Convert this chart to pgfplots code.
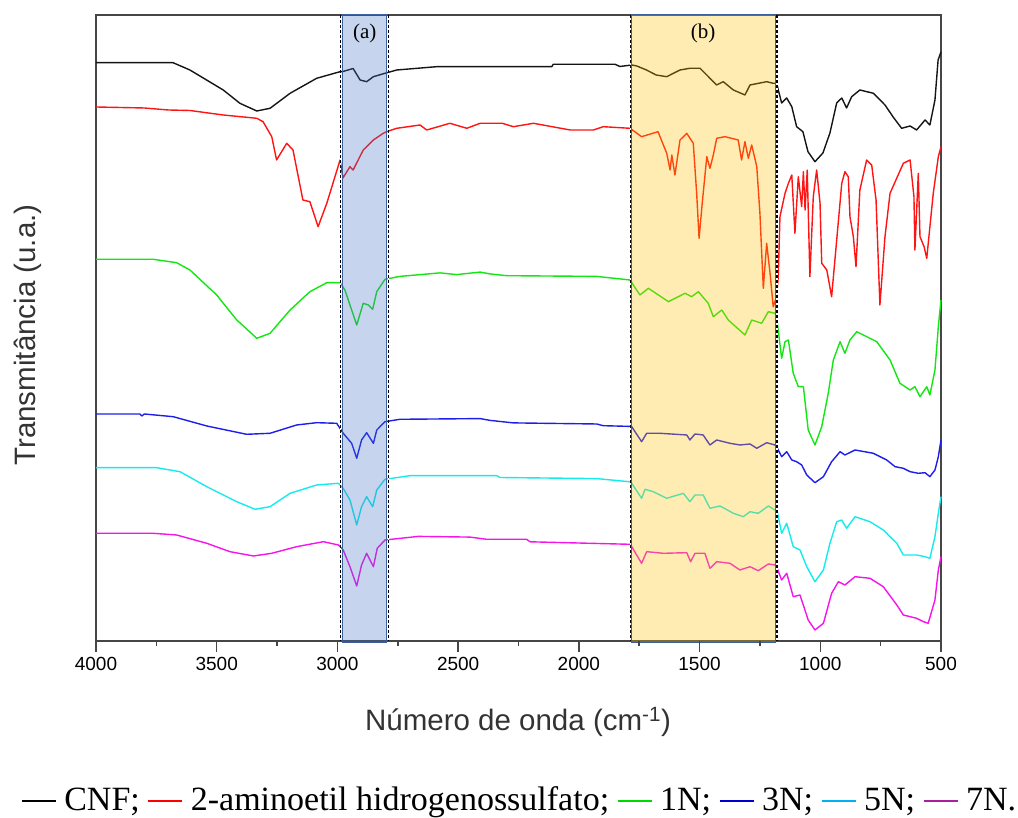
\documentclass[border=0pt]{standalone}
\usepackage{fontspec}
\setmainfont{Liberation Serif}
\newfontfamily\arial{Liberation Sans}
\usepackage{pgfplots}
\pgfplotsset{compat=1.18}

\definecolor{cnf}{RGB}{20,20,20}
\definecolor{amino}{RGB}{255,20,20}
\definecolor{n1}{RGB}{20,230,20}
\definecolor{n3}{RGB}{30,30,235}
\definecolor{n5}{RGB}{20,235,235}
\definecolor{n7}{RGB}{245,20,235}
\definecolor{boxa}{RGB}{68,114,196}
\definecolor{boxb}{RGB}{255,192,0}
\definecolor{boxedge}{RGB}{60,95,160}
\definecolor{axgray}{RGB}{70,70,70}
\definecolor{leg5}{RGB}{0,176,240}
\definecolor{leg7}{RGB}{170,30,160}

\begin{document}
\begin{tikzpicture}
\useasboundingbox (0pt,0pt) rectangle (1018pt,818pt);
\begin{axis}[
  at={(96pt,177pt)}, anchor=south west,
  scale only axis, width=845pt, height=626pt,
  xmin=500, xmax=4000, x dir=reverse,
  ymin=-641, ymax=-15,
  ytick=\empty,
  xtick={500,1000,...,4000}, minor x tick num=1,
  xtick pos=left, tick align=outside,
  major tick length=11pt, minor tick length=5pt,
  tick style={axgray, line width=1.5pt},
  axis line style={axgray, line width=1.6pt},
  xticklabel style={font=\arial\fontsize{19}{19}\selectfont, yshift=-2pt},
  /pgf/number format/assume math mode=true,
  /pgf/number format/1000 sep={},
  clip=false,
  every axis plot/.append style={line width=1.4pt, line join=round},
]
% CNF
\addplot[cnf] coordinates {
(4000,-62.7)(3681,-62.7)(3611,-70)(3473,-90)(3404,-103.3)(3334,-111)(3279,-108.3)(3196,-93.3)(3086,-78.3)(2989,-71.7)
(2977,-71.5)(2935,-68.5)(2906,-80)(2879,-81.7)(2851,-76.7)(2803,-73.3)(2754,-70)(2589,-66.7)(2112,-66.7)(2106,-64.3)
(1850,-64.3)(1830,-66.5)(1780,-65)(1760,-66)(1720,-70)(1680,-75)(1636,-76.7)(1581,-70)(1540,-68.3)(1498,-68.3)
(1429,-85)(1402,-81.7)(1360,-90)(1312,-95)(1291,-85)(1222,-81.7)(1195,-83.3)(1181,-83.3)
(1160,-103)(1139,-98)(1118,-106.7)(1098,-126.7)(1072,-131.7)(1051,-151.7)(1022,-161.7)(989,-153)(960,-133)
(932,-103)(911,-98)(891,-108)(870,-96.7)(836,-90)(780,-93.3)(732,-105)(699,-116.7)(663,-128.3)(628,-126)
(601,-130)(566,-120)(546,-125)(525,-100)(512,-60)(500,-52)};
% 2-aminoetil hidrogenossulfato
\addplot[amino] coordinates {
(4000,-107)(3800,-108)(3700,-110)(3611,-110.5)(3473,-115)(3334,-118.3)(3308,-121.7)(3272,-136.7)(3252,-160)
(3210,-143.3)(3184,-150)(3143,-200)(3114,-201.7)(3080,-226.7)(3044,-203.3)(2989,-160)(2977,-178)(2948,-166.7)
(2935,-170)(2893,-150)(2851,-140)(2810,-133.3)(2796,-131.7)(2754,-128.3)(2658,-125)(2630,-130)(2534,-123.3)
(2464,-128.3)(2409,-123.3)(2317,-123.3)(2271,-126.7)(2188,-123.3)(2036,-130)(1940,-130)(1899,-126.7)(1788,-128.3)
(1740,-136.7)(1672,-131.7)(1636,-153.3)(1622,-170)(1615,-155)(1602,-175)(1581,-140)(1553,-133.3)(1526,-143.3)
(1512,-193.3)(1502,-238.3)(1489,-203.3)(1470,-156.7)(1457,-168.3)(1443,-155)(1429,-138.3)(1395,-136.7)(1340,-140)
(1326,-160)(1312,-141.7)(1298,-158.3)(1284,-145)(1263,-166.7)(1250,-213.3)(1236,-288.3)(1222,-243.3)(1208,-273.3)
(1195,-306.7)(1181,-296.7)(1174,-276.7)(1167,-216.7)(1146,-193.3)(1132,-183.3)(1118,-175)(1105,-233.3)(1091,-176.7)
(1077,-206.7)(1070,-171.7)(1063,-210)(1054,-170)(1043,-276.7)(1029,-196.7)(1015,-170)(1001,-203.3)(994,-263.3)
(973,-270)(953,-296.7)(932,-240)(911,-183.3)(898,-171.7)(884,-176.7)(877,-216.7)(863,-236.7)(852,-266.7)(836,-190)
(808,-160)(787,-165)(769,-200)(753,-305)(732,-236.7)(711,-193.3)(656,-163.3)(628,-160)(612,-196.7)(608,-250)
(594,-173.3)(587,-236.7)(570,-246.7)(559,-258.3)(532,-193.3)(511,-156.7)(500,-146.7)};
% 1N
\addplot[n1] coordinates {
(4000,-259.3)(3763,-259.3)(3666,-262.7)(3611,-270)(3500,-295)(3417,-320)(3334,-338.3)(3279,-333.3)(3196,-310)
(3114,-291.7)(3044,-282.7)(2989,-282.7)(2969,-290)(2920,-325)(2893,-303.3)(2872,-305)(2854,-309.3)(2837,-291.7)
(2803,-279.3)(2741,-276.4)(2575,-272.9)(2506,-274.6)(2409,-272.1)(2368,-273.9)(2299,-275.7)(1926,-276.4)(1788,-280)
(1747,-295)(1712,-288.3)(1629,-301.7)(1560,-293.3)(1533,-296.7)(1505,-291.7)(1464,-303.3)(1443,-316.7)(1408,-310)
(1381,-320)(1312,-335)(1284,-320)(1243,-323.3)(1215,-311.7)(1188,-313.3)(1181,-316.7)(1160,-358.3)(1146,-341.7)
(1132,-340)(1112,-373.3)(1091,-386.7)(1070,-386.7)(1050,-430)(1022,-445)(994,-426.7)(967,-393.3)(946,-360)(918,-341.7)
(898,-353.3)(877,-340)(849,-331.7)(766,-341.7)(711,-360)(670,-383.3)(628,-390)(608,-386.7)(587,-396.7)(559,-386.7)
(546,-395)(525,-370)(511,-326.7)(500,-300)};
% 3N
\addplot[n3] coordinates {
(4000,-414)(3818,-414)(3810,-416)(3800,-414)(3680,-416.7)(3541,-426)(3376,-434.3)(3279,-433.3)(3169,-425)(3086,-422.7)
(3003,-423.3)(2976,-433.3)(2941,-443.3)(2920,-458.3)(2900,-440)(2879,-432.7)(2851,-443.3)(2837,-430)(2803,-421.7)
(2741,-419.3)(2409,-418.6)(2368,-420.4)(2271,-422.9)(1926,-424)(1899,-425.7)(1788,-426.4)(1781,-426.7)(1740,-441.7)
(1719,-433.3)(1664,-433.3)(1553,-435)(1540,-440)(1519,-434)(1485,-435)(1457,-445)(1429,-440)(1374,-443.3)(1333,-445)
(1291,-444)(1263,-448.3)(1222,-442.7)(1188,-445)(1181,-446.7)(1160,-456.7)(1139,-451.7)(1118,-460)(1098,-461.7)
(1077,-465)(1056,-475)(1022,-482.7)(987,-476.7)(953,-461.7)(918,-451.7)(898,-455)(856,-450)(780,-453.3)(725,-460)
(690,-466.7)(656,-468.3)(628,-471.7)(594,-473.3)(566,-472.7)(546,-476.7)(525,-470)(511,-456.7)(500,-440)};
% 5N
\addplot[n5] coordinates {
(4000,-467.7)(3749,-467.7)(3652,-471.7)(3541,-486.7)(3417,-501.7)(3341,-509.3)(3279,-506.7)(3196,-493.3)(3086,-485)
(2996,-483.3)(2976,-488.3)(2948,-500)(2920,-525)(2900,-506.7)(2879,-496.7)(2854,-506.7)(2837,-490)(2803,-479.3)
(2699,-475.7)(2340,-475.7)(2327,-477.5)(1926,-478.6)(1788,-481.8)(1781,-483.3)(1740,-498.3)(1726,-489.3)(1692,-491.7)
(1636,-498.3)(1567,-493.3)(1540,-501.7)(1519,-495)(1485,-495)(1457,-508.3)(1415,-506)(1360,-513.3)(1319,-516.7)
(1291,-511.7)(1257,-513.3)(1215,-506)(1188,-510)(1181,-508.3)(1160,-533.3)(1139,-523.3)(1112,-546.7)(1084,-550)
(1056,-566.7)(1022,-581.7)(987,-570)(960,-543.3)(932,-521.7)(911,-520)(891,-528.3)(856,-516.7)(794,-521.7)(739,-530)
(683,-543.3)(656,-555)(601,-555)(566,-556.7)(546,-558.3)(525,-536.7)(511,-513.3)(500,-496.7)};
% 7N
\addplot[n7] coordinates {
(4000,-533.3)(3763,-533.3)(3666,-535)(3541,-543.3)(3445,-551.7)(3348,-556)(3272,-553.3)(3169,-546.7)(3058,-541.7)
(2996,-545)(2976,-550)(2948,-566.7)(2920,-586)(2900,-565)(2879,-553.3)(2851,-566.7)(2835,-548.3)(2803,-540)
(2665,-536.4)(2451,-537.1)(2382,-539.3)(2216,-539.3)(2202,-541.8)(1788,-544.3)(1781,-546.7)(1740,-563.3)(1719,-551.7)
(1650,-553.3)(1553,-552.7)(1537,-561.7)(1519,-553.3)(1478,-553.3)(1457,-568.3)(1429,-561.7)(1374,-563.3)(1333,-570)
(1291,-566.7)(1257,-570.7)(1215,-564)(1188,-565)(1181,-566.7)(1160,-580)(1139,-573.3)(1112,-596.7)(1084,-595)
(1050,-620)(1022,-630)(987,-623.3)(953,-593.3)(925,-581.7)(898,-585)(856,-576.7)(794,-578.3)(739,-586.7)(683,-605)
(656,-615)(601,-618.3)(573,-621.7)(553,-623.3)(525,-600)(511,-570)(500,-556.7)};

% highlighted regions
\fill[boxa, fill opacity=0.3] (axis cs:2980,-15) rectangle (axis cs:2795,-643);
\draw[boxedge, line width=1pt] (axis cs:2980,-15) rectangle (axis cs:2795,-643);
\fill[boxb, fill opacity=0.3] (axis cs:1780,-15) rectangle (axis cs:1185,-643);
\draw[boxedge, line width=1pt] (axis cs:1780,-15) rectangle (axis cs:1185,-643);
\pgfplotsinvokeforeach{2988,2788,1786,1180}{
  \draw[white, line width=1.6pt] (axis cs:#1,-15) -- (axis cs:#1,-641);
  \draw[black, line width=1.6pt, dash pattern=on 3pt off 2pt] (axis cs:#1,-15) -- (axis cs:#1,-641);
}
% tick marks below the x axis
\pgfplotsinvokeforeach{500,1000,1500,2000,2500,3000,3500,4000}{
  \draw[axgray, line width=1.5pt] (axis cs:#1,-641) -- ([yshift=-11pt]axis cs:#1,-641);
}
\pgfplotsinvokeforeach{750,1250,1750,2250,2750,3250,3750}{
  \draw[axgray, line width=1.5pt] (axis cs:#1,-641) -- ([yshift=-5pt]axis cs:#1,-641);
}
\node[font=\fontsize{21}{21}\selectfont] at (axis cs:2887,-33) {(a)};
\node[font=\fontsize{21}{21}\selectfont] at (axis cs:1485,-33) {(b)};
\end{axis}

\node[rotate=90, font=\arial\fontsize{29.5}{29.5}\selectfont, text=black!80] at (28pt,483pt) {Transmitância (u.a.)};
\node[font=\arial\fontsize{29.5}{29.5}\selectfont, text=black!80] at (518pt,96pt) {Número de onda (cm\textsuperscript{-1})};

\node[font=\fontsize{34}{34}\selectfont, inner sep=0pt] at (519pt,16pt) {%
\textcolor{black}{\rule[0.25em]{1em}{1.6pt}} CNF; %
\textcolor{red}{\rule[0.25em]{1em}{1.6pt}} 2-aminoetil hidrogenossulfato; %
\textcolor{green!85!black}{\rule[0.25em]{1em}{1.6pt}} 1N; %
\textcolor{blue!80!black}{\rule[0.25em]{1em}{1.6pt}} 3N; %
\textcolor{leg5}{\rule[0.25em]{1em}{1.6pt}} 5N; %
\textcolor{leg7}{\rule[0.25em]{1em}{1.6pt}} 7N.};
\end{tikzpicture}
\end{document}
